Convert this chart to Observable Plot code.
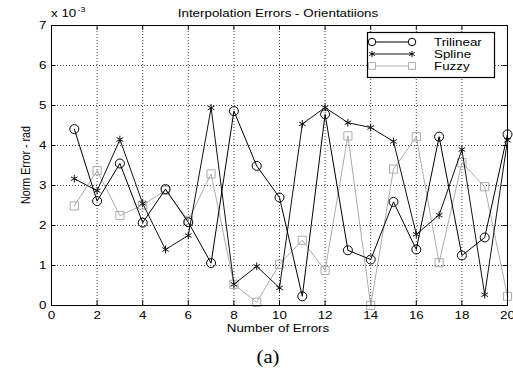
<!DOCTYPE html>
<html><head><meta charset="utf-8">
<script src="https://cdn.jsdelivr.net/npm/d3@7"></script>
<script src="https://cdn.jsdelivr.net/npm/@observablehq/plot@0.6"></script>
<style>
body{margin:0;background:#fff;}
#wrap{position:relative;width:513px;height:368px;overflow:hidden;background:#fff;font-family:"Liberation Sans",Arial,sans-serif;}
#wrap svg{position:absolute;left:0;top:0;}
.lbl{position:absolute;white-space:nowrap;line-height:1;font-size:10.7px;font-weight:normal;color:#000;}
</style></head><body><div id="wrap"></div>
<script>
const seriesNames = ["Trilinear", "Spline", "Fuzzy"];
const errorCount = [1, 2, 3, 4, 5, 6, 7, 8, 9, 10, 11, 12, 13, 14, 15, 16, 17, 18, 19, 20];
const trilinear = [4.41, 2.61, 3.55, 2.07, 2.91, 2.08, 1.06, 4.86, 3.49, 2.70, 0.23, 4.78, 1.38, 1.15, 2.59, 1.40, 4.22, 1.25, 1.70, 4.28];
const spline    = [3.17, 2.87, 4.15, 2.55, 1.40, 1.75, 4.94, 0.53, 0.98, 0.44, 4.54, 4.95, 4.57, 4.45, 4.10, 1.78, 2.26, 3.90, 0.27, 4.13];
const fuzzy     = [2.49, 3.37, 2.25, 2.51, 2.88, 2.13, 3.29, 0.53, 0.08, 1.03, 1.63, 0.88, 4.24, 0.00, 3.41, 4.22, 1.07, 3.57, 2.97, 0.23];
const xTicks = [0, 2, 4, 6, 8, 10, 12, 14, 16, 18, 20];
const yTicks = [0, 1, 2, 3, 4, 5, 6, 7];
const titleText = "Interpolation Errors - Orientatiions";
const xLabelText = "Number of Errors";
const yLabelText = "Norm Error - rad";
const exponentBase = "x 10";
const exponentPower = "-3";
const panelText = "(a)";

const STRETCH = 1.25;
const styles = {
  Trilinear: {stroke: "#000", symbol: "circle", r: 4.5},
  Spline: {stroke: "#111", symbol: "asterisk", r: 3.6},
  Fuzzy: {stroke: "#ababab", symbol: "square", r: 4.6}
};
const values = {Trilinear: trilinear, Spline: spline, Fuzzy: fuzzy};
const rows = name => errorCount.map((x, i) => ({x, y: values[name][i], s: name}));

const drawOrder = ["Fuzzy", "Spline", "Trilinear"];
const seriesMarks = drawOrder.flatMap(name => [
  Plot.line(rows(name), {x: "x", y: "y", stroke: styles[name].stroke, strokeWidth: 1}),
  Plot.dot(rows(name), {x: "x", y: "y", stroke: styles[name].stroke, symbol: styles[name].symbol, r: styles[name].r, fill: "none", strokeWidth: 1})
]);

const chart = Plot.plot({
  width: 513, height: 368,
  marginLeft: 51, marginRight: 6, marginTop: 25, marginBottom: 63,
  x: {domain: [0, 20], label: null},
  y: {domain: [0, 7], label: null},
  style: {fontFamily: "'Liberation Sans', Arial, sans-serif", fontSize: "10.7px", color: "#000", background: "#fff", overflow: "visible"},
  marks: [
    Plot.gridX(xTicks, {stroke: "#000", strokeOpacity: 0.75, strokeDasharray: "1,2"}),
    Plot.gridY(yTicks, {stroke: "#000", strokeOpacity: 0.75, strokeDasharray: "1,2"}),
    Plot.ruleX(xTicks, {x: d => d, y1: 0, y2: 0.12, stroke: "#000"}),
    Plot.ruleX(xTicks, {x: d => d, y1: 7, y2: 6.88, stroke: "#000"}),
    Plot.ruleY(yTicks, {y: d => d, x1: 0, x2: 0.2, stroke: "#000"}),
    Plot.ruleY(yTicks, {y: d => d, x1: 20, x2: 19.8, stroke: "#000"}),
    Plot.axisX(xTicks, {tickSize: 0, tickPadding: 6, label: null}),
    Plot.axisY(yTicks, {tickSize: 0, tickPadding: 5, label: null}),
    ...seriesMarks,
    Plot.frame({stroke: "#000", strokeWidth: 1})
  ]
});

const wrap = document.getElementById("wrap");
wrap.appendChild(chart);

d3.select(chart).selectAll("g[aria-label$='tick label'] text").each(function() {
  const w = this.getComputedTextLength();
  this.setAttribute("textLength", w * STRETCH);
  this.setAttribute("lengthAdjust", "spacingAndGlyphs");
});

function addLabel(text, left, top, transform, extra) {
  const d = document.createElement("div");
  d.className = "lbl";
  d.textContent = text;
  d.style.left = left + "px";
  d.style.top = top + "px";
  d.style.transform = transform;
  Object.assign(d.style, extra || {});
  wrap.appendChild(d);
  return d;
}
addLabel(titleText, 278, 13, `translate(-50%,-50%) scaleX(${STRETCH})`);
addLabel(xLabelText, 277.5, 328, `translate(-50%,-50%) scaleX(${STRETCH})`);
addLabel(yLabelText, 25, 165, `translate(-50%,-50%) rotate(-90deg) scaleY(${STRETCH})`);
addLabel(panelText, 268, 357, `translate(-50%,-50%) scaleX(1.15)`, {fontFamily: "'Liberation Serif', 'Times New Roman', serif", fontSize: "18px", fontWeight: "normal"});
const ex = addLabel(exponentBase, 51, 8.2, `scaleX(${STRETCH})`, {transformOrigin: "left top"});
const sup = document.createElement("span");
sup.textContent = exponentPower;
sup.style.fontSize = "7px";
sup.style.position = "relative";
sup.style.top = "-5px";
sup.style.marginLeft = "1px";
ex.appendChild(sup);

const lg = d3.select(wrap).append("svg")
  .attr("width", 130).attr("height", 48)
  .style("left", "366px").style("top", "31px");
lg.append("rect").attr("x", 1.5).attr("y", 1.5).attr("width", 127).attr("height", 45)
  .attr("fill", "#fff").attr("stroke", "#000").attr("stroke-width", 1.2);
const symbolMap = {circle: d3.symbolCircle, asterisk: d3.symbolAsterisk, square: d3.symbolSquare};
seriesNames.forEach((name, i) => {
  const st = styles[name];
  const yy = 11 + i * 12;
  const g = lg.append("g");
  g.append("line").attr("x1", 6).attr("x2", 46).attr("y1", yy).attr("y2", yy).attr("stroke", st.stroke);
  [6, 46].forEach(xx => {
    g.append("path").attr("transform", `translate(${xx},${yy})`)
      .attr("d", d3.symbol(symbolMap[st.symbol], Math.PI * st.r * st.r * 0.7)())
      .attr("fill", "#fff").attr("stroke", st.stroke);
  });
  const t = g.append("text").attr("x", 68).attr("y", yy).attr("dy", "0.35em")
    .attr("font-family", "'Liberation Sans', Arial, sans-serif").attr("font-size", "10.7px").text(name);
  const w = t.node().getComputedTextLength();
  t.attr("textLength", w * STRETCH).attr("lengthAdjust", "spacingAndGlyphs");
});
</script>
</body></html>
